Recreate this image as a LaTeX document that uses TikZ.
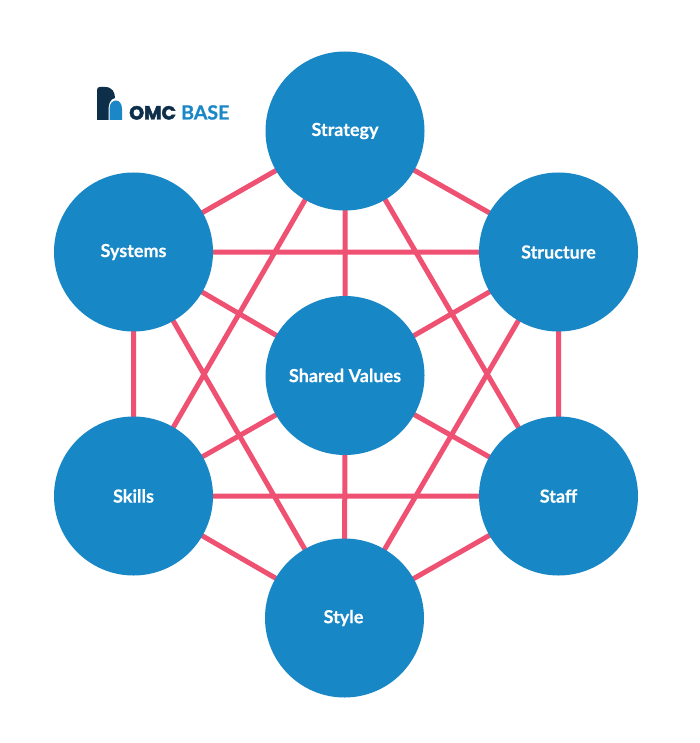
\documentclass[tikz,border=0pt]{standalone}
\usepackage{fontspec}
\setmainfont{Lato}[BoldFont={* Bold},BoldFeatures={FakeBold=0.25}]
\newfontfamily\logofont{Poppins}[BoldFont={* Bold},BoldFeatures={FakeBold=2.2}]
\newfontfamily\logotail{Lato}[BoldFont={* Bold},BoldFeatures={FakeBold=0.8}]
\definecolor{discblue}{HTML}{1887C6}
\definecolor{linkpink}{HTML}{EF5173}
\definecolor{logonavy}{HTML}{0E2F4A}
\definecolor{logoblue}{HTML}{1B87C6}
\tikzset{
  disc/.style={circle,fill=discblue,minimum size=159pt,inner sep=0pt,text=white,
    font=\fontsize{18}{20}\selectfont\bfseries},
  link/.style={draw=linkpink,line width=5pt}
}
\begin{document}
\begin{tikzpicture}[x=1pt,y=-1pt]
\useasboundingbox (0,0) rectangle (700,743);
\fill[white] (0,0) rectangle (700,743);
% connector positions
\coordinate (pa) at (345,131);
\coordinate (pb) at (558.5,252);
\coordinate (pc) at (558.5,496);
\coordinate (pd) at (344.5,618);
\coordinate (pe) at (133.5,496);
\coordinate (pf) at (133.5,252);
\coordinate (pg) at (345,375.5);
% links between the seven elements
\draw[link] (pa)--(pb) (pa)--(pc) (pa)--(pe) (pa)--(pf) (pa)--(pg)
  (pb)--(pc) (pb)--(pd) (pb)--(pf) (pb)--(pg)
  (pc)--(pd) (pc)--(pe) (pc)--(pg)
  (pd)--(pe) (pd)--(pf) (pd)--(pg)
  (pe)--(pf) (pe)--(pg) (pf)--(pg);
% elements
\node[disc] (strategy) at (pa) {Strategy};
\node[disc] (structure) at (pb) {Structure};
\node[disc] (staff) at (pc) {Staff};
\node[disc] (style) at (pd) {\kern-2pt Style};
\node[disc] (skills) at (pe) {Skills};
\node[disc] (systems) at (pf) {Systems};
\node[disc] (shared) at (pg) {Shared Values};
% brand mark
\fill[logonavy] (97,120) -- (97,90)
  .. controls (97,88) and (98,87) .. (100,87) -- (105,87)
  .. controls (112,87) and (115,92) .. (115,98)
  .. controls (110,99) and (108.5,104) .. (108.5,110) -- (108.5,120) -- cycle;
\fill[logoblue] (109.5,120) -- (109.5,109)
  .. controls (109.5,103) and (113,100.5) .. (116,100.5)
  .. controls (119.5,100.5) and (122,104) .. (122,109) -- (122,120) -- cycle;
\node[anchor=base west,inner sep=0pt,text=logonavy,font=\logofont\bfseries\fontsize{19}{20}\selectfont] (omc) at (129,119.5) {OMC};
\node[anchor=base west,inner sep=0pt,text=logoblue,font=\logotail\bfseries\fontsize{19.5}{20}\selectfont] (base) at (181,119.5) {BASE};
\end{tikzpicture}
\end{document}
